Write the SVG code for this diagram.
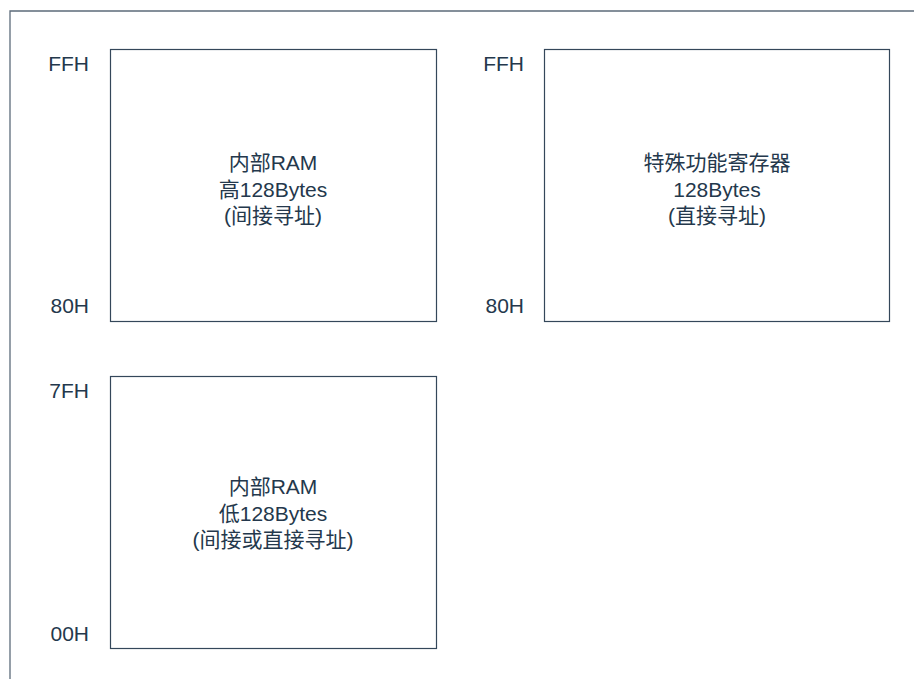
<svg xmlns="http://www.w3.org/2000/svg" width="914" height="679" viewBox="0 0 914 679">
<style>
.frame{fill:none;stroke:#5c6b7a;stroke-width:1.3}
.box{fill:#ffffff;stroke:#34475a;stroke-width:1.2}
.t{font-family:"Liberation Sans","Noto Sans CJK SC",sans-serif;font-size:21px;fill:#24384c}
.c{text-anchor:middle}
.r{text-anchor:end}
</style>
<rect width="914" height="679" fill="#ffffff"/>
<path class="frame" d="M10,679 V11 H914"/>
<g id="node-high-ram">
<rect class="box" x="110.5" y="49.5" width="326" height="272"/>
<text class="t c" x="273" y="170">内部RAM</text>
<text class="t c" x="273" y="197">高128Bytes</text>
<text class="t c" x="273" y="223">(间接寻址)</text>
<text class="t r" x="89" y="71">FFH</text>
<text class="t r" x="89" y="313">80H</text>
</g>
<g id="node-sfr">
<rect class="box" x="544.5" y="49.5" width="345" height="272"/>
<text class="t c" x="717" y="170">特殊功能寄存器</text>
<text class="t c" x="717" y="197">128Bytes</text>
<text class="t c" x="717" y="223">(直接寻址)</text>
<text class="t r" x="524" y="71">FFH</text>
<text class="t r" x="524" y="313">80H</text>
</g>
<g id="node-low-ram">
<rect class="box" x="110.5" y="376.5" width="326" height="272"/>
<text class="t c" x="273" y="494">内部RAM</text>
<text class="t c" x="273" y="521">低128Bytes</text>
<text class="t c" x="273" y="547">(间接或直接寻址)</text>
<text class="t r" x="89" y="398">7FH</text>
<text class="t r" x="89" y="641">00H</text>
</g>
<g id="connectors"></g>
</svg>
